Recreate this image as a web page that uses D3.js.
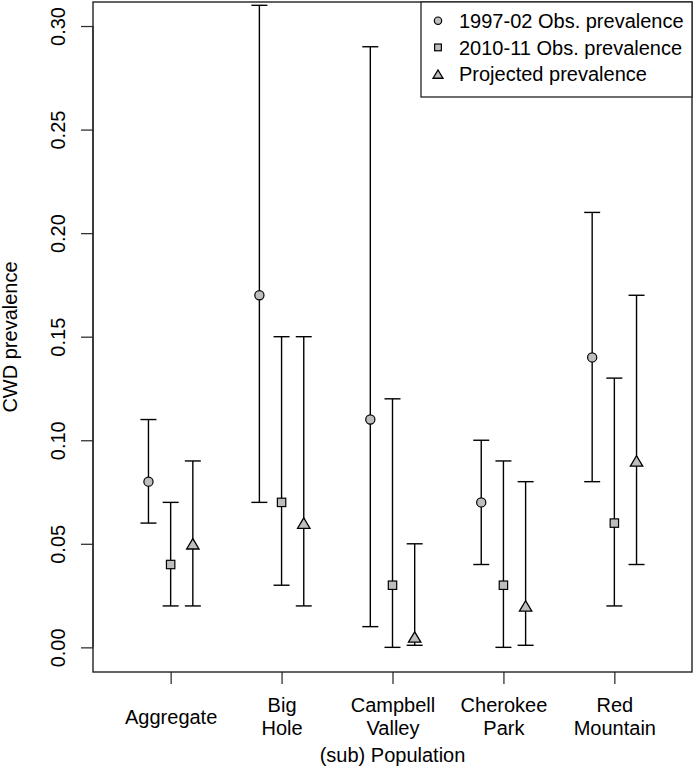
<!DOCTYPE html>
<html><head><meta charset="utf-8">
<script src="https://cdn.jsdelivr.net/npm/d3@7"></script>
<style>body{margin:0;background:#fff}svg{display:block}text{font-family:"Liberation Sans",Arial,sans-serif;fill:#000}</style>
</head><body>
<svg id="c" width="694" height="769"></svg>
<script>
const categories = ["Aggregate", "Big\nHole", "Campbell\nValley", "Cherokee\nPark", "Red\nMountain"];
const seriesNames = ["1997-02 Obs. prevalence", "2010-11 Obs. prevalence", "Projected prevalence"];
const seriesShapes = ["circle", "square", "triangle"];
const est1997 = [0.08, 0.17, 0.11, 0.07, 0.14];
const lo1997  = [0.06, 0.07, 0.01, 0.04, 0.08];
const hi1997  = [0.11, 0.31, 0.29, 0.10, 0.21];
const est2010 = [0.04, 0.07, 0.03, 0.03, 0.06];
const lo2010  = [0.02, 0.03, 0.00, 0.00, 0.02];
const hi2010  = [0.07, 0.15, 0.12, 0.09, 0.13];
const estProj = [0.05, 0.06, 0.005, 0.02, 0.09];
const loProj  = [0.02, 0.02, 0.001, 0.001, 0.04];
const hiProj  = [0.09, 0.15, 0.05, 0.08, 0.17];
const yTicks = [0.00, 0.05, 0.10, 0.15, 0.20, 0.25, 0.30];

const series = [
  {est: est1997, lo: lo1997, hi: hi1997, off: -0.2},
  {est: est2010, lo: lo2010, hi: hi2010, off: 0},
  {est: estProj, lo: loProj, hi: hiProj, off: 0.2}
];

const L = 93, R = 692, T = 2, B = 672;
const svg = d3.select("#c");
const x = d3.scaleLinear().domain([0.3, 5.7]).range([L, R]);
const y = d3.scaleLinear().domain([-0.0119, 0.3116]).range([B, T]);
const fill = "#bebebe";

function symbol(g, shape, cx, cy, s) {
  if (shape === "circle") {
    g.append("circle").attr("cx", cx).attr("cy", cy).attr("r", 4.6 * s)
      .attr("fill", fill).attr("stroke", "#000").attr("stroke-width", 1.2);
  } else if (shape === "square") {
    const h = 4.2 * s;
    g.append("rect").attr("x", cx - h).attr("y", cy - h).attr("width", 2 * h).attr("height", 2 * h)
      .attr("fill", fill).attr("stroke", "#000").attr("stroke-width", 1.2);
  } else {
    const w = 6.2 * s, hh = 5.2 * s;
    g.append("path").attr("d", `M${cx - w},${cy + hh}L${cx + w},${cy + hh}L${cx},${cy - hh}Z`)
      .attr("fill", fill).attr("stroke", "#000").attr("stroke-width", 1.3);
  }
}

// axes
const yAxis = d3.axisLeft(y).tickValues(yTicks).tickSize(12).tickFormat(d3.format(".2f"));
const gy = svg.append("g").attr("transform", `translate(${L},0)`).call(yAxis);
gy.select(".domain").remove();
gy.selectAll(".tick line").attr("stroke", "#333").attr("stroke-width", 1.3);
gy.selectAll(".tick text").remove();
gy.selectAll(".tick").append("text")
  .attr("transform", "translate(-28,0) rotate(-90)")
  .attr("text-anchor", "middle").attr("font-size", 20).attr("fill", "#000")
  .text(d => d3.format(".2f")(d));
svg.append("line").attr("x1", L).attr("x2", L).attr("y1", y(0)).attr("y2", y(0.3)).attr("stroke", "#333").attr("stroke-width", 1.3);

const xAxis = d3.axisBottom(x).tickValues([1, 2, 3, 4, 5]).tickSize(12).tickFormat("");
const gx = svg.append("g").attr("transform", `translate(0,${B})`).call(xAxis);
gx.select(".domain").remove();
gx.selectAll(".tick line").attr("stroke", "#333").attr("stroke-width", 1.3);
gx.selectAll(".tick").each(function(d) {
  const lines = categories[d - 1].split("\n");
  const t = d3.select(this).append("text").attr("text-anchor", "middle").attr("font-size", 20).attr("fill", "#000");
  const base = lines.length === 1 ? 51.5 : 40;
  lines.forEach((ln, i) => t.append("tspan").attr("x", 0).attr("y", base + i * 23).text(ln));
});
svg.append("line").attr("x1", x(1)).attr("x2", x(5)).attr("y1", B + 0).attr("y2", B).attr("stroke", "none");

// box
svg.append("rect").attr("x", L).attr("y", T).attr("width", R - L).attr("height", B - T)
  .attr("fill", "none").attr("stroke", "#222").attr("stroke-width", 1.4);

// titles
svg.append("text").attr("x", (L + R) / 2).attr("y", 762).attr("text-anchor", "middle").attr("font-size", 20).text("(sub) Population");
svg.append("text").attr("transform", `translate(17,${(T + B) / 2}) rotate(-90)`).attr("text-anchor", "middle").attr("font-size", 20).text("CWD prevalence");

// error bars & points
const gp = svg.append("g");
series.forEach((s, si) => {
  categories.forEach((c, i) => {
    const cx = x(i + 1 + s.off);
    gp.append("line").attr("x1", cx).attr("x2", cx).attr("y1", y(s.lo[i])).attr("y2", y(s.hi[i])).attr("stroke", "#000").attr("stroke-width", 1.4);
    [s.lo[i], s.hi[i]].forEach(v => {
      gp.append("line").attr("x1", cx - 8).attr("x2", cx + 8).attr("y1", y(v)).attr("y2", y(v)).attr("stroke", "#000").attr("stroke-width", 1.4);
    });
  });
});
series.forEach((s, si) => {
  categories.forEach((c, i) => symbol(gp, seriesShapes[si], x(i + 1 + s.off), y(s.est[i]), 1));
});

// legend
const lg = svg.append("g");
lg.append("rect").attr("x", 421).attr("y", T).attr("width", R - 421).attr("height", 95)
  .attr("fill", "#fff").attr("stroke", "#222").attr("stroke-width", 1.3);
seriesNames.forEach((n, i) => {
  const cy = 20.7 + i * 26.7;
  symbol(lg, seriesShapes[i], 438, cy, 0.8);
  lg.append("text").attr("x", 459).attr("y", cy + 7.3).attr("font-size", 20).text(n);
});
</script>
</body></html>
